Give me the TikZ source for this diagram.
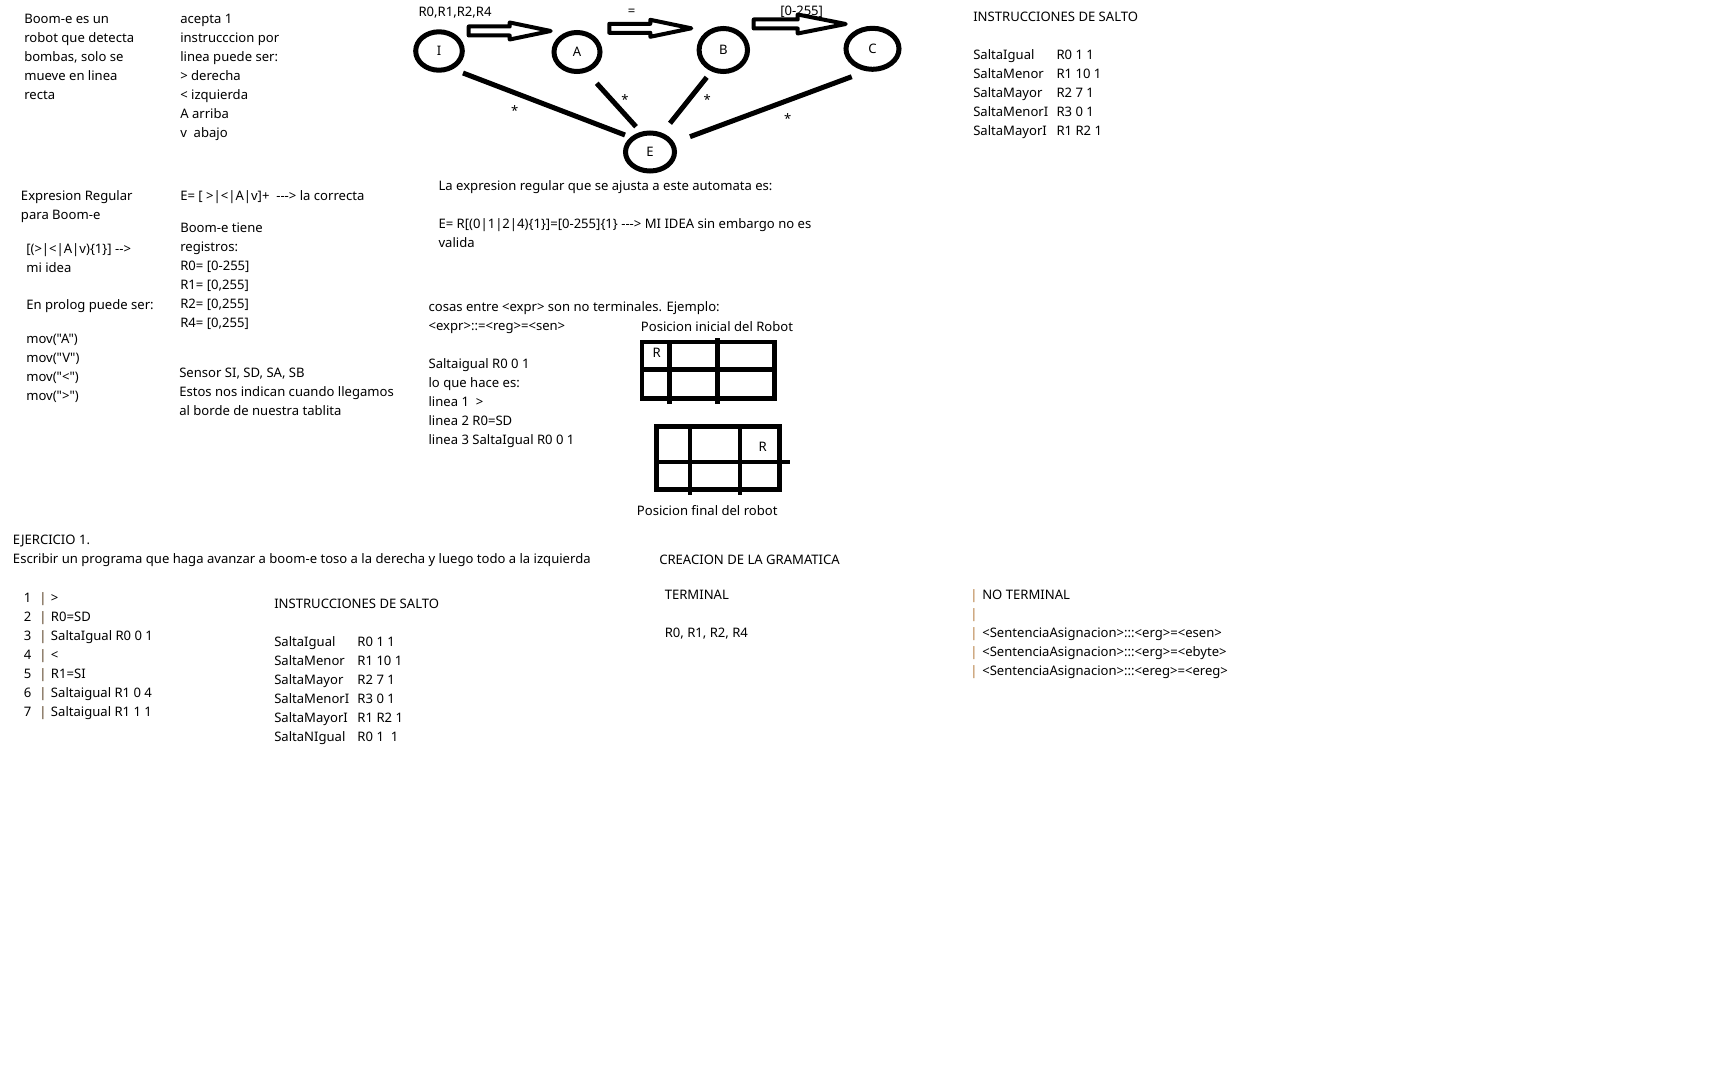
\documentclass[tikz,border=0pt]{standalone}
\usepackage{fontspec}
\newfontfamily\uifont{Noto Sans}
\usepackage{tikz}
\usetikzlibrary{shapes.geometric}
\definecolor{barcol}{RGB}{178,120,58}
\newcommand{\body}{\uifont\fontsize{9.3}{13.5}\selectfont}
\newcommand{\salto}[2]{\makebox[20.8mm][l]{#1}#2}
\newcommand{\codeline}[2]{\makebox[3.9mm][l]{#1}\makebox[2.9mm][l]{\textcolor{barcol!45!black}{|}}#2}
\newcommand{\nterm}[1]{\makebox[3mm][l]{\textcolor{barcol}{|}}#1}
\tikzstyle{txt} = [anchor=north west, inner sep=0pt, align=left, font=\body, execute at begin node=\strut]
\tikzstyle{lbl} = [anchor=base west, inner sep=0pt, font=\body]
\tikzstyle{estado} = [ellipse, draw=black, line width=1.25mm, inner sep=0pt, font=\body]
\tikzstyle{spoke} = [line width=1.25mm]
\tikzstyle{starlbl} = [inner sep=0pt, font=\body]
\tikzstyle{cell} = [line width=1.1mm]
\tikzset{pics/bigarrow/.style n args={4}{code={
  \draw[line width=1mm, line join=round] (0,-#3) -- (#1-#2,-#3) -- (#1-#2,-#4) -- (#1,0) -- (#1-#2,#4) -- (#1-#2,#3) -- (0,#3) -- cycle;
}}}

\begin{document}
\begin{tikzpicture}[x=0.025cm, y=-0.025cm]
    \useasboundingbox (0,0) rectangle (1734,1090);

    % notas de arriba
    \node (boomdesc) [txt] at (24,14) {Boom-e es un\\robot que detecta\\bombas, solo se\\mueve en linea\\recta};
    \node (acepta) [txt] at (180,14) {acepta 1\\instrucccion por\\linea puede ser:\\> derecha\\< izquierda\\A arriba\\v\ \ abajo};

    \node (saltoTop) [txt] at (973,11.7) {INSTRUCCIONES DE SALTO\\ \\
      \salto{SaltaIgual}{R0 1 1}\\\salto{SaltaMenor}{R1 10 1}\\\salto{SaltaMayor}{R2 7 1}\\
      \salto{SaltaMenorI}{R3 0 1}\\\salto{SaltaMayorI}{R1 R2 1}};

    % automata
    \node (stateI) [estado, minimum width=11.65mm, minimum height=9.6mm] at (439,51) {I};
    \node (stateA) [estado, minimum width=11.5mm, minimum height=9.75mm] at (577,52) {A};
    \node (stateB) [estado, minimum width=12.1mm, minimum height=10.75mm] at (723.3,50) {B};
    \node (stateC) [estado, minimum width=13.25mm, minimum height=10.25mm] at (872.5,48.8) {C};
    \node (stateE) [estado, minimum width=12.25mm, minimum height=9.5mm] at (650,152) {E};

    \node (regsLbl) [lbl] at (418.3,16.7) {R0,R1,R2,R4};
    \node (eqLbl) [lbl, anchor=base] at (631.7,15.7) {=};
    \node (rangeLbl) [lbl] at (780,16) {[0-255]};

    \pic at (468.7,31) {bigarrow={82}{41}{4.5}{8.5}};
    \pic at (609.3,28.3) {bigarrow={82}{41}{4.5}{8.5}};
    \pic at (753.7,24) {bigarrow={92}{48}{4.5}{9.5}};

    \draw[spoke] ([shift={(24,22)}]stateI.center) -- node[starlbl, pos=.32, yshift=-4.35mm] {*} ([shift={(-25,-17)}]stateE.center);
    \draw[spoke] ([shift={(19.7,31.3)}]stateA.center) -- node[starlbl, pos=.31, xshift=4mm, yshift=-0.75mm] {*} ([shift={(-14,-25.3)}]stateE.center);
    \draw[spoke] ([shift={(-16.6,27.3)}]stateB.center) -- node[starlbl, pos=.41, xshift=3.9mm, yshift=-0.75mm] {*} ([shift={(20,-28.7)}]stateE.center);
    \draw[spoke] ([shift={(-20.8,27.9)}]stateC.center) -- node[starlbl, pos=.396, yshift=-4.6mm] {*} ([shift={(40,-15.3)}]stateE.center);

    % expresiones
    \node (exprReg) [txt] at (20.7,190.2) {Expresion Regular\\para Boom-e};
    \node (miIdea) [txt] at (26,243) {[(>|<|A|v)\{1\}] -->\\mi idea};
    \node (prolog) [txt] at (26,295.7) {En prolog puede ser:};
    \node (movs) [txt] at (26,333.7) {mov("A")\\mov("V")\\mov("<")\\mov(">")};

    \node (correcta) [txt] at (180,187.4) {E= [ >|<|A|v]+\ \ ---> la correcta};
    \node (registros) [txt] at (180,222.4) {Boom-e tiene\\registros:\\R0= [0-255]\\R1= [0,255]\\R2= [0,255]\\R4= [0,255]};
    \node (sensor) [txt] at (179,367.4) {Sensor SI, SD, SA, SB\\Estos nos indican cuando llegamos\\al borde de nuestra tablita};

    \node (automataExpr) [txt] at (438.3,180.7) {La expresion regular que se ajusta a este automata es:\\ \\
      E= R[(0|1|2|4)\{1\}]=[0-255]\{1\} ---> MI IDEA sin embargo no es\\valida};
    \node (cosas) [txt] at (428.3,301.4) {cosas entre <expr> son no terminales. Ejemplo:\\<expr>::=<reg>=<sen>\\ \\
      Saltaigual R0 0 1\\lo que hace es:\\linea 1\ \ >\\linea 2 R0=SD\\linea 3 SaltaIgual R0 0 1};

    % tablitas del robot
    \node (posIni) [lbl] at (640.7,331.7) {Posicion inicial del Robot};
    \draw[cell] (642,341.7) rectangle (774.5,398.3);
    \draw[cell] (642,369.3) -- (774.5,369.3);
    \draw[cell] (669.3,341.7) -- (669.3,404);
    \draw[cell] (717.3,338) -- (717.3,404);
    \node (rIni) [starlbl] at (656.7,352.7) {R};

    \draw[cell] (656.5,426.5) rectangle (779.5,489.5);
    \draw[cell] (656.5,461.7) -- (790,461.7);
    \draw[cell] (690,426.5) -- (690,495);
    \draw[cell] (740,426.5) -- (740,495);
    \node (rFin) [starlbl] at (762.7,446.7) {R};
    \node (posFin) [lbl] at (636.7,515) {Posicion final del robot};

    % ejercicio
    \node (ejercicio) [txt] at (12.7,534.7) {EJERCICIO 1.\\Escribir un programa que haga avanzar a boom-e toso a la derecha y luego todo a la izquierda};
    \node (programa) [txt] at (23.5,592.4) {\codeline{1}{>}\\\codeline{2}{R0=SD}\\\codeline{3}{SaltaIgual R0 0 1}\\\codeline{4}{<}\\
      \codeline{5}{R1=SI}\\\codeline{6}{Saltaigual R1 0 4}\\\codeline{7}{Saltaigual R1 1 1}};
    \node (saltoBottom) [txt] at (274,599) {INSTRUCCIONES DE SALTO\\ \\
      \salto{SaltaIgual}{R0 1 1}\\\salto{SaltaMenor}{R1 10 1}\\\salto{SaltaMayor}{R2 7 1}\\
      \salto{SaltaMenorI}{R3 0 1}\\\salto{SaltaMayorI}{R1 R2 1}\\\salto{SaltaNIgual}{R0 1\ \ 1}};

    % gramatica
    \node (gramatica) [txt] at (659,551) {CREACION DE LA GRAMATICA};
    \node (terminal) [txt] at (664.5,589.7) {TERMINAL\\ \\R0, R1, R2, R4};
    \node (noTerminal) [txt] at (970,589.7) {\nterm{NO TERMINAL}\\\nterm{}\\\nterm{<SentenciaAsignacion>:::<erg>=<esen>}\\
      \nterm{<SentenciaAsignacion>:::<erg>=<ebyte>}\\\nterm{<SentenciaAsignacion>:::<ereg>=<ereg>}};

\end{tikzpicture}
\end{document}
